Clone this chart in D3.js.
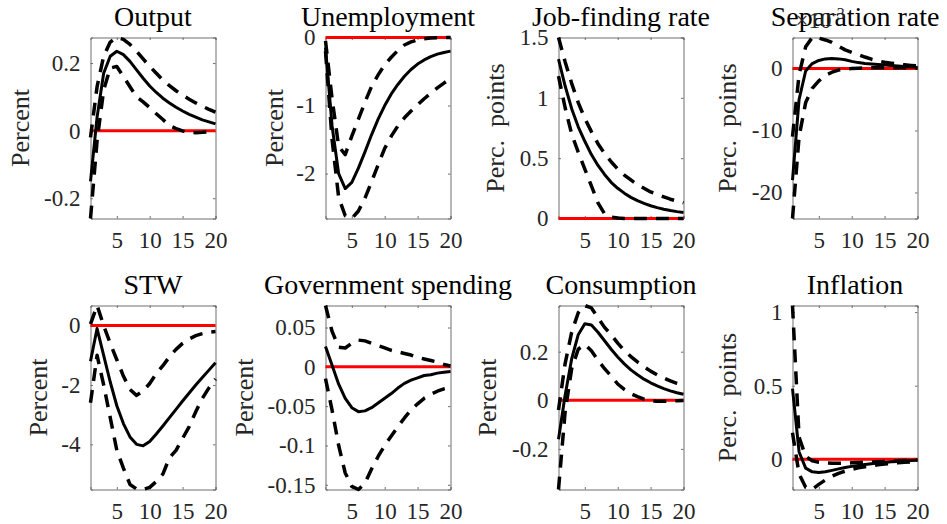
<!DOCTYPE html>
<html><head><meta charset="utf-8">
<script src="https://cdn.jsdelivr.net/npm/d3@7"></script>
<style>body{margin:0;background:#fff}svg{display:block}</style>
</head><body>
<svg id="chart" width="947" height="524"></svg>
<script>
// ---------- data ----------
const horizons = [1,2,3,4,5,6,7,8,9,10,11,12,13,14,15,16,17,18,19,20];
const xTicks = [5,10,15,20];

const titles = ["Output","Unemployment","Job-finding rate","Separation rate",
                "STW","Government spending","Consumption","Inflation"];
const yLabels = ["Percent","Percent","Perc.  points","Perc.  points",
                 "Percent","Percent","Percent","Perc.  points"];
const yTicks = [[-0.2,0,0.2],[-2,-1,0],[0,0.5,1,1.5],[-20,-10,0],
                [-4,-2,0],[-0.15,-0.1,-0.05,0,0.05],[-0.2,0,0.2],[0,0.5,1]];
const yLimits = [[-0.26,0.2756],[-2.66,0],[0,1.5],[-24.2,5.0],
                 [-5.52,0.676],[-0.156,0.078],[-0.367,0.39],[-0.205,1.045]];
const exponentLabels = [null,null,null,"-3",null,null,null,null];

const outputMedian = [-0.15,0.04,0.17,0.22,0.235,0.225,0.205,0.18,0.155,0.132,0.113,0.096,0.082,0.069,0.058,0.048,0.04,0.032,0.026,0.02];
const outputUpper  = [-0.02,0.13,0.22,0.262,0.2756,0.27,0.255,0.235,0.212,0.19,0.17,0.15,0.133,0.118,0.105,0.093,0.082,0.072,0.063,0.055];
const outputLower  = [-0.26,-0.03,0.12,0.185,0.19,0.16,0.13,0.1,0.085,0.068,0.05,0.033,0.015,0.006,-0.001,-0.005,-0.006,-0.005,-0.003,-0.002];

const unempMedian = [-0.15,-1.3,-2.0,-2.22,-2.13,-1.92,-1.68,-1.43,-1.2,-1.0,-0.83,-0.69,-0.57,-0.47,-0.39,-0.33,-0.28,-0.245,-0.22,-0.2];
const unempUpper  = [-0.05,-0.9,-1.6,-1.72,-1.45,-1.2,-0.95,-0.72,-0.55,-0.4,-0.29,-0.19,-0.11,-0.065,-0.035,-0.018,-0.008,-0.003,0,0];
const unempLower  = [-0.2,-1.5,-2.35,-2.62,-2.66,-2.55,-2.36,-2.12,-1.87,-1.63,-1.45,-1.3,-1.18,-1.08,-0.99,-0.9,-0.82,-0.74,-0.67,-0.6];

const jobFindMedian = [1.32,1.1,0.91,0.76,0.64,0.53,0.44,0.365,0.3,0.25,0.21,0.175,0.148,0.125,0.106,0.09,0.077,0.066,0.057,0.05];
const jobFindUpper  = [1.5,1.3,1.12,0.96,0.83,0.72,0.62,0.54,0.47,0.41,0.36,0.32,0.28,0.25,0.22,0.2,0.18,0.16,0.145,0.13];
const jobFindLower  = [1.18,0.92,0.7,0.55,0.41,0.27,0.13,0.04,0.012,0.004,0.001,0,0,0,0,0,0,0,0,0];

const sepMedian = [-18,-5,-0.4,0.8,1.3,1.55,1.6,1.55,1.4,1.15,0.95,0.82,0.72,0.63,0.55,0.47,0.4,0.32,0.25,0.18];
const sepUpper  = [-11,-1,3.5,5.0,4.9,4.6,4.2,3.6,3.0,2.6,2.25,1.85,1.5,1.2,1.0,0.85,0.72,0.6,0.5,0.42];
const sepLower  = [-24.2,-11,-5.5,-3.2,-2.0,-1.1,-0.6,-0.25,-0.1,0,0.05,0.1,0.1,0.1,0.1,0.1,0.1,0.1,0.08,0.05];

const stwMedian = [-1.2,-0.1,-1.0,-1.9,-2.7,-3.3,-3.75,-4.0,-4.05,-3.9,-3.65,-3.38,-3.1,-2.82,-2.54,-2.27,-2.0,-1.75,-1.5,-1.25];
const stwUpper  = [0.05,0.676,0.0,-0.6,-1.15,-1.7,-2.15,-2.35,-2.2,-1.95,-1.62,-1.35,-1.05,-0.8,-0.6,-0.45,-0.34,-0.27,-0.22,-0.2];
const stwLower  = [-2.6,-1.0,-2.0,-3.1,-4.2,-4.8,-5.35,-5.5,-5.52,-5.45,-5.25,-5.0,-4.45,-4.2,-3.8,-3.4,-2.9,-2.45,-2.1,-1.8];

const govMedian = [0.026,0.002,-0.022,-0.04,-0.052,-0.057,-0.056,-0.052,-0.046,-0.04,-0.034,-0.027,-0.021,-0.017,-0.014,-0.011,-0.01,-0.008,-0.007,-0.006];
const govUpper  = [0.078,0.045,0.025,0.024,0.03,0.034,0.033,0.03,0.027,0.024,0.021,0.019,0.017,0.015,0.012,0.01,0.008,0.006,0.003,0.001];
const govLower  = [-0.015,-0.055,-0.1,-0.135,-0.152,-0.156,-0.148,-0.13,-0.114,-0.1,-0.088,-0.076,-0.065,-0.055,-0.047,-0.04,-0.035,-0.031,-0.028,-0.026];

const consMedian = [-0.16,0.02,0.17,0.27,0.315,0.31,0.28,0.245,0.21,0.178,0.15,0.125,0.105,0.087,0.072,0.059,0.048,0.039,0.031,0.025];
const consUpper  = [-0.04,0.15,0.28,0.36,0.39,0.38,0.34,0.3,0.27,0.235,0.205,0.18,0.158,0.138,0.12,0.105,0.092,0.08,0.07,0.062];
const consLower  = [-0.367,-0.05,0.13,0.21,0.23,0.204,0.165,0.13,0.1,0.067,0.045,0.027,0.015,0.005,-0.002,-0.004,-0.004,-0.003,-0.002,-0.001];

const inflMedian = [0.48,0.05,-0.06,-0.085,-0.09,-0.085,-0.075,-0.065,-0.056,-0.048,-0.041,-0.035,-0.03,-0.025,-0.021,-0.017,-0.014,-0.011,-0.008,-0.006];
const inflUpper  = [1.045,0.15,0.02,-0.01,-0.02,-0.025,-0.027,-0.027,-0.026,-0.024,-0.022,-0.02,-0.018,-0.016,-0.014,-0.012,-0.01,-0.008,-0.006,-0.005];
const inflLower  = [0.18,-0.1,-0.19,-0.205,-0.17,-0.14,-0.115,-0.095,-0.08,-0.068,-0.058,-0.05,-0.043,-0.037,-0.032,-0.028,-0.024,-0.02,-0.017,-0.015];

const medians = [outputMedian,unempMedian,jobFindMedian,sepMedian,stwMedian,govMedian,consMedian,inflMedian];
const uppers  = [outputUpper,unempUpper,jobFindUpper,sepUpper,stwUpper,govUpper,consUpper,inflUpper];
const lowers  = [outputLower,unempLower,jobFindLower,sepLower,stwLower,govLower,consLower,inflLower];

// ---------- layout ----------
const colLeft = [90, 325, 558, 792];
const boxW = 125;
const rowTop = [37, 305];
const rowH = [181, 184];
const ylabelOffset = [62, 43, 55, 57, 44, 73, 63, 57];
const FONT = "'Liberation Serif','Times New Roman',serif";
const textColor = "#262626";
const boxColor = "#6e6e6e";

const svg = d3.select("#chart");

titles.forEach((title, i) => {
  const col = i % 4, row = Math.floor(i / 4);
  const x0 = colLeft[col] + 0.5, y0 = rowTop[row] + 0.5, w = boxW, h = rowH[row];
  const g = svg.append("g").attr("transform", `translate(${x0},${y0})`);
  const x = d3.scaleLinear().domain([1, 20]).range([0, w]);
  const y = d3.scaleLinear().domain(yLimits[i]).range([h, 0]);

  // axes (drawn under data)
  const tl = 2.5;
  const axB = d3.axisBottom(x).tickValues(xTicks).tickSize(-tl).tickPadding(11).tickFormat(d3.format("d"));
  const axT = d3.axisTop(x).tickValues(xTicks).tickSize(-tl).tickFormat("");
  const axL = d3.axisLeft(y).tickValues(yTicks[i]).tickSize(-tl).tickPadding(10).tickFormat(d => String(d));
  const axR = d3.axisRight(y).tickValues(yTicks[i]).tickSize(-tl).tickFormat("");

  const gb = g.append("g").attr("transform", `translate(0,${h})`).call(axB);
  const gt = g.append("g").call(axT);
  const gl = g.append("g").call(axL);
  const gr = g.append("g").attr("transform", `translate(${w},0)`).call(axR);
  [gb, gt, gl, gr].forEach(a => {
    a.selectAll(".domain").attr("stroke", boxColor).attr("stroke-width", 1);
    a.selectAll(".tick line").attr("stroke", boxColor).attr("stroke-width", 1);
    a.selectAll("text").attr("font-family", FONT).attr("font-size", 23).attr("fill", textColor);
  });
  gb.selectAll("text").attr("dy", "0.8em");

  // zero line
  const line = d3.line().x((d, k) => x(horizons[k])).y(d => y(d));
  const zeros = horizons.map(() => 0);
  g.append("path").datum(zeros).attr("d", line)
    .attr("fill", "none").attr("stroke", "#ff0000").attr("stroke-width", 3);

  [lowers[i], uppers[i]].forEach(s => {
    g.append("path").datum(s).attr("d", line)
      .attr("fill", "none").attr("stroke", "#000").attr("stroke-width", 3.5)
      .attr("stroke-dasharray", "13,9").attr("stroke-linejoin", "round");
  });
  g.append("path").datum(medians[i]).attr("d", line)
    .attr("fill", "none").attr("stroke", "#000").attr("stroke-width", 3)
    .attr("stroke-linejoin", "round");

  // title
  g.append("text").attr("x", w / 2).attr("y", -12)
    .attr("text-anchor", "middle").attr("font-family", FONT).attr("font-size", 28)
    .attr("fill", "#000").text(title);

  // y label
  g.append("text")
    .attr("transform", `translate(${-ylabelOffset[i]},${h / 2}) rotate(-90)`)
    .attr("text-anchor", "middle").attr("font-family", FONT).attr("font-size", 26)
    .attr("fill", textColor).attr("xml:space", "preserve").style("white-space", "pre")
    .text(yLabels[i]);

  // exponent label
  if (exponentLabels[i]) {
    const t = g.append("text").attr("x", 3).attr("y", -10)
      .attr("font-family", FONT).attr("font-size", 23).attr("fill", textColor);
    t.append("tspan").text("×10");
    t.append("tspan").attr("dy", -9).attr("font-size", 16).text(exponentLabels[i]);
  }
});
</script>
</body></html>
